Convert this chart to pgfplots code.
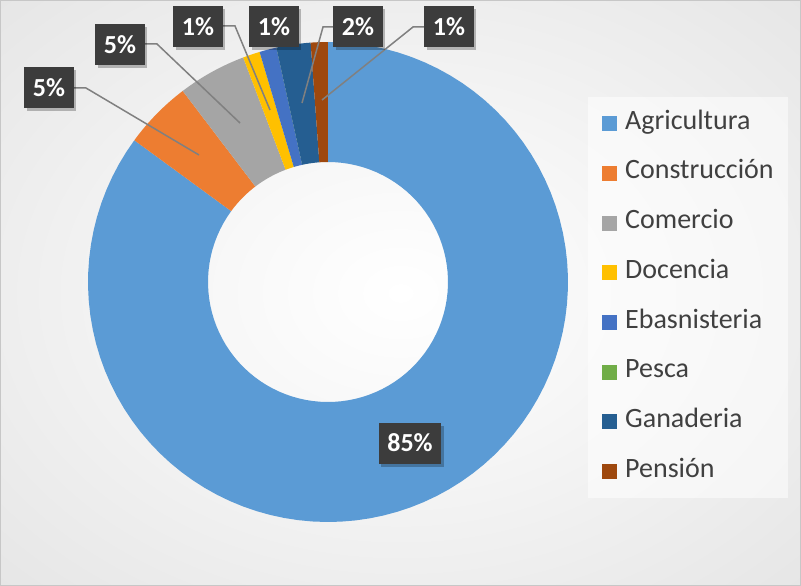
\documentclass[border=0pt]{standalone}
\usepackage{pgfplots}
\pgfplotsset{compat=1.18}
\usepackage{fontspec}
\setmainfont{Carlito}
\usetikzlibrary{shadows}
\definecolor{agri}{HTML}{5B9BD5}
\definecolor{cons}{HTML}{ED7D31}
\definecolor{come}{HTML}{A5A5A5}
\definecolor{doce}{HTML}{FFC000}
\definecolor{ebas}{HTML}{4472C4}
\definecolor{pesc}{HTML}{70AD47}
\definecolor{gana}{HTML}{255E91}
\definecolor{pens}{HTML}{9E480E}
\definecolor{txt}{HTML}{404040}
\definecolor{lblbox}{HTML}{3C3C3C}
\definecolor{leader}{HTML}{808080}
\pgfdeclareradialshading{bgshade}{\pgfpoint{0bp}{0bp}}{color(0bp)=(white); color(12bp)=(white!97!black); color(50bp)=(black!14); color(72bp)=(black!23)}
% counts per category (total 87): Agricultura 74, Construccion 4, Comercio 4,
% Docencia 1, Ebasnisteria 1, Pesca 0, Ganaderia 2, Pension 1
\newcommand{\total}{87}
\begin{document}
\begin{tikzpicture}
\shade[shading=bgshade, draw=black!22, line width=1pt] (0.5pt,0.5pt) rectangle (800.5pt,585.5pt);
\begin{axis}[
  scale only axis, width=801pt, height=586pt,
  xmin=0, xmax=801, ymin=0, ymax=586, y dir=reverse,
  hide axis, clip=false,
  declare function={
    rr(\t)=(\t<=0.45)?240:((\t<=0.55)?(240-120*(\t-0.45)/0.1):120);
    th(\t,\a,\b)=(\t<=0.45)?(\a+(\b-\a)*\t/0.45):((\t<=0.55)?(\b):(\b-(\b-\a)*(\t-0.55)/0.45));
  },
  legend image code/.code={\fill[#1, fill opacity=1] (0pt,-7.5pt) rectangle (15pt,7.5pt);},
  legend cell align=left,
  legend style={at={(axis cs:588,97)}, anchor=north west,
    draw=none, fill=white, fill opacity=0.55, text opacity=1,
    inner xsep=14pt, inner ysep=15pt, row sep=26.7pt, column sep=8pt,
    font=\fontsize{28}{28}\selectfont, text=txt,
    nodes={text height=17pt, text depth=6pt, inner ysep=0pt, inner xsep=0pt}},
]
\newcommand{\slice}[3]{%
  \addplot[fill=#1, draw=none, domain=0:1, samples=201, variable=\t]
   ({328+rr(\t)*sin(360*th(\t,#2,#3)/\total)},{282-rr(\t)*cos(360*th(\t,#2,#3)/\total)});
}
\slice{agri}{0}{74}
\slice{cons}{74}{78}
\slice{come}{78}{82}
\slice{doce}{82}{83}
\slice{ebas}{83}{84}
\slice{pesc}{84}{84}
\slice{gana}{84}{86}
\slice{pens}{86}{87}
\legend{Agricultura,Construcción,Comercio,Docencia,Ebasnisteria,Pesca,Ganaderia,Pensión}
% leader lines
\addplot[leader, line width=1.5pt, forget plot] coordinates {(74,88) (86,88) (199,155)};
\addplot[leader, line width=1.5pt, forget plot] coordinates {(145,44) (157,44) (240,123)};
\addplot[leader, line width=1.5pt, forget plot] coordinates {(223,26) (235,26) (270,110)};
\addplot[leader, line width=1.5pt, forget plot] coordinates {(334,27) (323,27) (302,103)};
\addplot[leader, line width=1.5pt, forget plot] coordinates {(424,27) (413,27) (322,100)};
% data labels
\tikzset{lbl/.style={fill=lblbox, text=white, font=\fontsize{26}{26}\selectfont\bfseries,
  minimum height=41pt, inner xsep=8.5pt, inner ysep=0pt, anchor=center,
  drop shadow={shadow xshift=2.5pt, shadow yshift=-3pt, fill=black, opacity=0.25}}}
\node[lbl] at (axis cs:410,443) {85\%};
\node[lbl] at (axis cs:49,88) {5\%};
\node[lbl] at (axis cs:120,45) {5\%};
\node[lbl] at (axis cs:198,27) {1\%};
\node[lbl] at (axis cs:274,27) {1\%};
\node[lbl] at (axis cs:358,27) {2\%};
\node[lbl] at (axis cs:449,27) {1\%};
\end{axis}
\pgfresetboundingbox
\path (0,0) rectangle (801pt,586pt);
\end{tikzpicture}
\end{document}
